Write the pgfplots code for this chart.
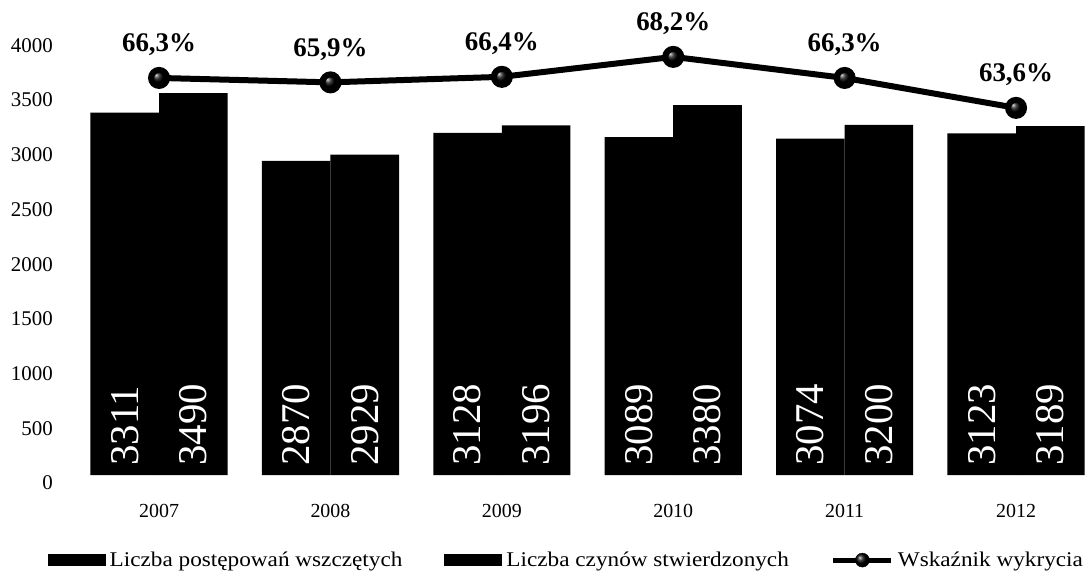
\documentclass[border=0pt]{standalone}
\usepackage{fontspec}
\setmainfont{Liberation Serif}
\newfontfamily\wide{Liberation Serif}[FakeStretch=1.11]
\usepackage{pgfplots}
\pgfplotsset{compat=1.18}
\usepackage{pgfplotstable}

\pgfplotstableread{
x year a b
0 2007 3311 3490
1 2008 2870 2929
2 2009 3128 3196
3 2010 3089 3380
4 2011 3074 3200
5 2012 3123 3189
}\data

\newcommand{\fs}[1]{\fontsize{#1}{#1}\selectfont}

\begin{document}
\begin{tikzpicture}
\useasboundingbox (-73bp,-97bp) rectangle (1015bp,475bp);
\pgfplotsset{
  common/.style={
    scale only axis, width=1015bp, height=465bp,
    xmin=-0.502, xmax=5.42, clip=false,
  }
}
\begin{axis}[common,
  ymin=0, ymax=4250,
  ytick={0,500,...,4000},
  xtick={0,...,5}, xticklabels={2007,2008,2009,2010,2011,2012},
  axis line style={draw=none}, tick style={draw=none},
  /pgf/number format/assume math mode=true,
  /pgf/number format/1000 sep={},
  yticklabel style={font=\fs{21}, anchor=east, inner sep=0pt, xshift=-20bp, yshift=-8bp},
  xticklabel style={font=\fs{20}, anchor=base, inner sep=0pt, yshift=-42bp},
  legend columns=3,
  legend style={at={(0.487,-0.183)}, anchor=center, draw=none, fill=none,
    font=\wide\fs{21}, inner sep=0pt,
    /tikz/every even column/.append style={column sep=38bp},
    nodes={inner xsep=4bp}},
  legend cell align=left,
]
\addplot[ybar, bar width=0.4, bar shift=-0.2, fill=black, draw=none,
  legend image code/.code={\fill[black] (0bp,-6bp) rectangle (58bp,6bp);}]
  table[x=x, y=a] {\data};
\addlegendentry{Liczba postępowań wszczętych}
\addplot[ybar, bar width=0.4, bar shift=0.2, fill=black, draw=none,
  legend image code/.code={\fill[black] (0bp,-6bp) rectangle (58bp,6bp);}]
  table[x=x, y=b] {\data};
\addlegendentry{Liczba czynów stwierdzonych}
\addlegendimage{legend image code/.code={
  \draw[black, line width=5bp] (0bp,0bp) -- (58bp,0bp);
  \shade[ball color=black] (29bp,0bp) circle (7bp);}}
\addlegendentry{Wskaźnik wykrycia}

\addplot[forget plot, draw=none, mark=none, nodes near coords,
  point meta=explicit symbolic,
  every node near coord/.append style={rotate=90, anchor=west, text=white,
    inner xsep=9bp, inner ysep=0pt, font=\fs{41}}]
  table[x expr=\thisrow{x}-0.2, y expr=0, meta=a] {\data};
\addplot[forget plot, draw=none, mark=none, nodes near coords,
  point meta=explicit symbolic,
  every node near coord/.append style={rotate=90, anchor=west, text=white,
    inner xsep=9bp, inner ysep=0pt, font=\fs{41}}]
  table[x expr=\thisrow{x}+0.2, y expr=0, meta=b] {\data};
\end{axis}

\begin{axis}[common, ymin=30.48, ymax=72.43, axis lines=none]
\addplot[black, line width=6bp, mark=ball, mark size=8bp,
  mark options={ball color=black},
  nodes near coords, point meta=explicit symbolic,
  every node near coord/.append style={anchor=south, inner sep=0pt,
    yshift=19bp, font=\fs{27}\bfseries, text=black}]
  coordinates {(0,66.3) [66,3\%] (1,65.9) [65,9\%] (2,66.4) [66,4\%]
               (3,68.2) [68,2\%] (4,66.3) [66,3\%] (5,63.6) [63,6\%]};
\end{axis}
\end{tikzpicture}
\end{document}
